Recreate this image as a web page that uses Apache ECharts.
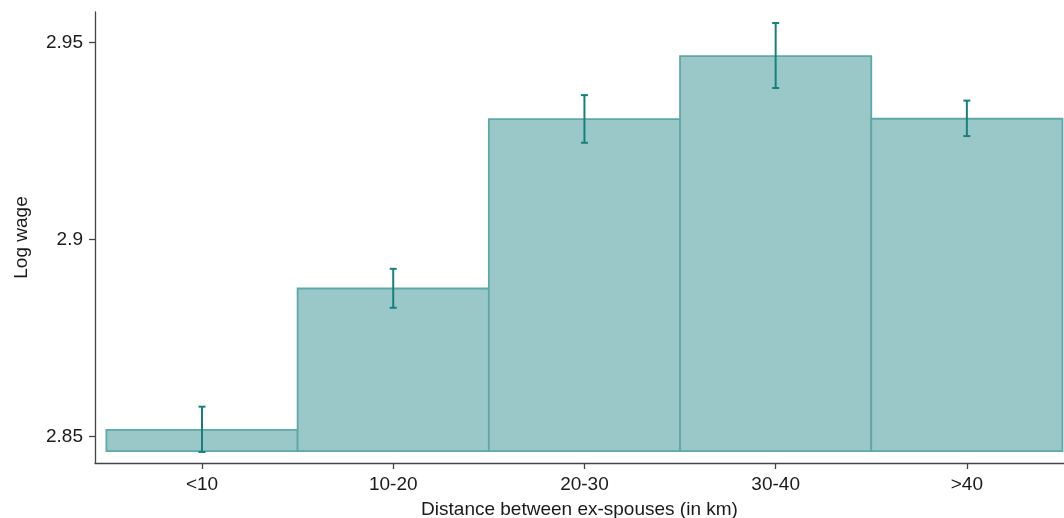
<!DOCTYPE html>
<html>
<head>
<meta charset="utf-8">
<script src="https://cdn.jsdelivr.net/npm/echarts@6/dist/echarts.min.js"></script>
<style>
  html, body { margin: 0; padding: 0; background: #fff; }
  #chart { width: 1064px; height: 518px; }
</style>
</head>
<body>
<div id="chart"></div>
<script>
// Distance bands between ex-spouses
const categories = ['<10', '10-20', '20-30', '30-40', '>40'];
// Mean log wage per band
const meanWage = [2.8517, 2.8876, 2.9306, 2.9466, 2.9307];
// Confidence interval bounds
const ciLow = [2.8461, 2.8827, 2.9246, 2.9385, 2.9263];
const ciHigh = [2.8576, 2.8926, 2.9367, 2.9550, 2.9353];
// Value the bars rise from
const barBase = 2.8463;
// Y-axis tick values
const yTicks = [2.85, 2.9, 2.95];

const positions = categories.map((c, i) => i + 1);
const barData = positions.map((p, i) => [p, meanWage[i], barBase]);
const errData = positions.map((p, i) => [p, ciLow[i], ciHigh[i]]);

const chart = echarts.init(document.getElementById('chart'), null, { renderer: 'canvas' });

const textStyle = { color: '#1a1a1a', fontFamily: 'Liberation Sans, Arial, sans-serif', fontSize: 19 };

chart.setOption({
  animation: false,
  backgroundColor: '#ffffff',
  grid: { left: 95, right: 0, top: 12, bottom: 55, containLabel: false, outerBoundsMode: 'none' },
  xAxis: {
    type: 'value',
    min: 0.4404,
    max: 5.508,
    name: 'Distance between ex-spouses (in km)',
    nameLocation: 'middle',
    nameGap: 37,
    nameTextStyle: Object.assign({}, textStyle),
    axisLine: { show: true, lineStyle: { color: '#444', width: 1.3 } },
    axisTick: { show: true, length: 6, customValues: positions, lineStyle: { color: '#444', width: 1.3 } },
    axisLabel: Object.assign({}, textStyle, {
      customValues: positions,
      margin: 12,
      formatter: v => categories[Math.round(v) - 1] || ''
    }),
    splitLine: { show: false }
  },
  yAxis: {
    type: 'value',
    min: 2.8433,
    max: 2.9578,
    name: 'Log wage',
    nameLocation: 'middle',
    nameGap: 64,
    nameRotate: 90,
    nameTextStyle: Object.assign({}, textStyle),
    axisLine: { show: true, lineStyle: { color: '#444', width: 1.3 } },
    axisTick: { show: true, length: 6, customValues: yTicks, lineStyle: { color: '#444', width: 1.3 } },
    axisLabel: Object.assign({}, textStyle, {
      customValues: yTicks,
      margin: 12,
      formatter: v => String(+(+v).toFixed(2))
    }),
    splitLine: { show: false }
  },
  series: [
    {
      type: 'custom',
      name: 'Mean log wage',
      data: barData,
      encode: { x: 0, y: [1, 2] },
      renderItem: function (params, api) {
        const x = api.value(0);
        const p1 = api.coord([x - 0.5, api.value(1)]);
        const p2 = api.coord([x + 0.5, api.value(2)]);
        return {
          type: 'rect',
          shape: { x: p1[0], y: p1[1], width: p2[0] - p1[0], height: p2[1] - p1[1] },
          style: { fill: '#9AC8C9', stroke: '#5EA8A8', lineWidth: 1.8 }
        };
      }
    },
    {
      type: 'custom',
      name: 'CI',
      data: errData,
      encode: { x: 0, y: [1, 2] },
      z: 5,
      renderItem: function (params, api) {
        const x = api.value(0);
        const lo = api.coord([x, api.value(1)]);
        const hi = api.coord([x, api.value(2)]);
        const cap = 3.5;
        const st = { stroke: '#17807F', lineWidth: 2 };
        return {
          type: 'group',
          children: [
            { type: 'line', shape: { x1: lo[0], y1: lo[1], x2: hi[0], y2: hi[1] }, style: st },
            { type: 'line', shape: { x1: lo[0] - cap, y1: lo[1], x2: lo[0] + cap, y2: lo[1] }, style: st },
            { type: 'line', shape: { x1: hi[0] - cap, y1: hi[1], x2: hi[0] + cap, y2: hi[1] }, style: st }
          ]
        };
      }
    }
  ]
});
</script>
</body>
</html>
